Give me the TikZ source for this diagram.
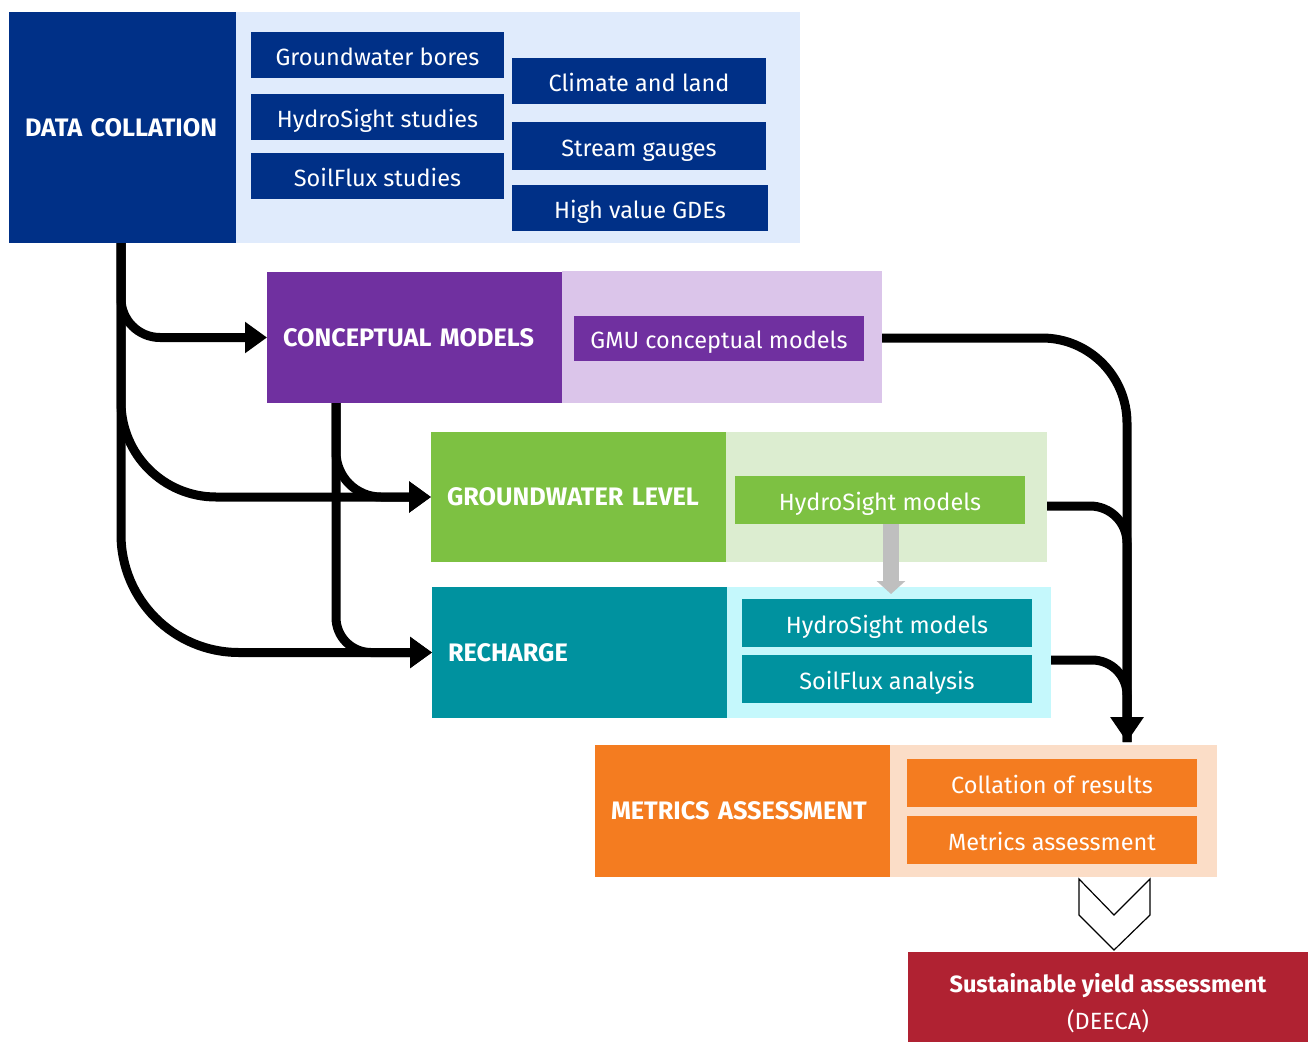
\documentclass[tikz,border=0pt]{standalone}
\usepackage{fontspec}
\setmainfont{Fira Sans}
\usetikzlibrary{arrows.meta}
\definecolor{navy}{HTML}{003087}
\definecolor{navyl}{HTML}{E0EBFC}
\definecolor{purp}{HTML}{7030A0}
\definecolor{purpl}{HTML}{DBC5EA}
\definecolor{grn}{HTML}{7DC142}
\definecolor{grnl}{HTML}{DCEDD0}
\definecolor{teal2}{HTML}{00929F}
\definecolor{teall}{HTML}{C5F8FC}
\definecolor{orng}{HTML}{F47C20}
\definecolor{orngl}{HTML}{FBDDC7}
\definecolor{redd}{HTML}{B02232}
\definecolor{grayarr}{HTML}{BFBFBF}
\tikzset{
  panel/.style={inner sep=0pt, outer sep=0pt},
  head/.style={text=white, font=\fontsize{25.3}{30}\selectfont\bfseries, inner xsep=16pt, inner ysep=0pt, outer sep=0pt, align=left},
  item/.style={text=white, font=\fontsize{23.5}{28}\selectfont, inner sep=0pt, outer sep=0pt, align=center, text height=22pt, text depth=2pt},
  flow/.style={line width=9pt, black},
  tipL/.style={-{Triangle[length=22pt,width=30pt]}},
}
\begin{document}
\begin{tikzpicture}[x=1pt,y=-1pt]
\useasboundingbox (0,0) rectangle (1308,1041);
% Data collation
\node[panel, fill=navyl, minimum width=564, minimum height=231] (dcl) at (518,127.5) {};
\node[head, fill=navy, text width=195, minimum height=231] (dc) at (122.5,127.5) {DATA COLLATION};
\node[item, fill=navy, minimum width=253, minimum height=46] (gb) at (377.5,55) {Groundwater bores};
\node[item, fill=navy, minimum width=253, minimum height=46] (hs) at (377.5,117) {HydroSight studies};
\node[item, fill=navy, minimum width=253, minimum height=46] (sf) at (377.5,176) {SoilFlux studies};
\node[item, fill=navy, minimum width=254, minimum height=46] (cl) at (639,81) {Climate and land};
\node[item, fill=navy, minimum width=254, minimum height=48] (sg) at (639,146) {Stream gauges};
\node[item, fill=navy, minimum width=256, minimum height=46] (gde) at (640,208) {High value GDEs};
% Conceptual
\node[panel, fill=purpl, minimum width=320, minimum height=132] (cml) at (722,337) {};
\node[head, fill=purp, text width=263, minimum height=131] (cm) at (414.5,337.5) {CONCEPTUAL MODELS};
\node[item, fill=purp, minimum width=290, minimum height=45] (gmu) at (719,338.5) {GMU conceptual models};
% Groundwater level
\node[panel, fill=grnl, minimum width=321, minimum height=130] (gwll) at (886.5,497) {};
\node[head, fill=grn, text width=263, minimum height=130] (gwl) at (578.5,497) {GROUNDWATER LEVEL};
\node[item, fill=grn, minimum width=290, minimum height=48] (hsg) at (880,500) {HydroSight models};
% Recharge
\node[panel, fill=teall, minimum width=324, minimum height=131] (rcl) at (889,652.5) {};
\node[head, fill=teal2, text width=263, minimum height=131] (rc) at (579.5,652.5) {RECHARGE};
\node[item, fill=teal2, minimum width=290, minimum height=48] (hsr) at (887,623) {HydroSight models};
\node[item, fill=teal2, minimum width=290, minimum height=48] (sfa) at (887,679) {SoilFlux analysis};
% Metrics
\node[panel, fill=orngl, minimum width=327, minimum height=132] (mal) at (1053.5,811) {};
\node[head, fill=orng, text width=263, minimum height=132] (ma) at (742.5,811) {METRICS ASSESSMENT};
\node[item, fill=orng, minimum width=290, minimum height=48] (cor) at (1052,783) {Collation of results};
\node[item, fill=orng, minimum width=290, minimum height=48] (mas) at (1052,840) {Metrics assessment};
% Sustainable yield
\node[fill=redd, text=white, inner sep=0pt, outer sep=0pt, minimum width=400, minimum height=102, align=center, font=\fontsize{23.5}{37}\selectfont] (sya) at (1108,1003)
  {\bfseries Sustainable yield assessment\\ (DEECA)};
% connector coordinates
\coordinate (dcs) at ([xshift=-1.5]dc.south);
\coordinate (cms) at ([xshift=-78.5]cm.south);
\coordinate (mtop) at (1127,742);
% left flows
\draw[flow, tipL, rounded corners=39] (dcs) |- (cm.west);
\draw[flow, tipL, rounded corners=95] (dcs) |- (gwl.west);
\draw[flow, tipL, rounded corners=118] (dcs) |- (rc.west);
\draw[flow, tipL, rounded corners=45] (cms) |- (gwl.west);
\draw[flow, tipL, rounded corners=35] (cms) |- (rc.west);
% right flows
\draw[flow, rounded corners=37] ([yshift=-9]gwll.east) -| (mtop);
\draw[flow, rounded corners=35] ([yshift=-7.5]rcl.east) -| (mtop);
\draw[flow, -{Triangle[length=25pt,width=32pt]}, rounded corners=85] ([yshift=-1]cml.east) -| (mtop);
% gray arrow
\draw[grayarr, line width=16pt, -{Triangle[length=13pt,width=28pt]}] ([xshift=11]hsg.south) -- ([xshift=4]hsr.north |- 0,594);
% chevron
\draw[black, line width=1.2pt, fill=white, line join=miter]
  (1079,879) -- (1114,915) -- (1150,879) -- (1150,915) -- (1114,950) -- (1079,915) -- cycle;
\end{tikzpicture}
\end{document}
